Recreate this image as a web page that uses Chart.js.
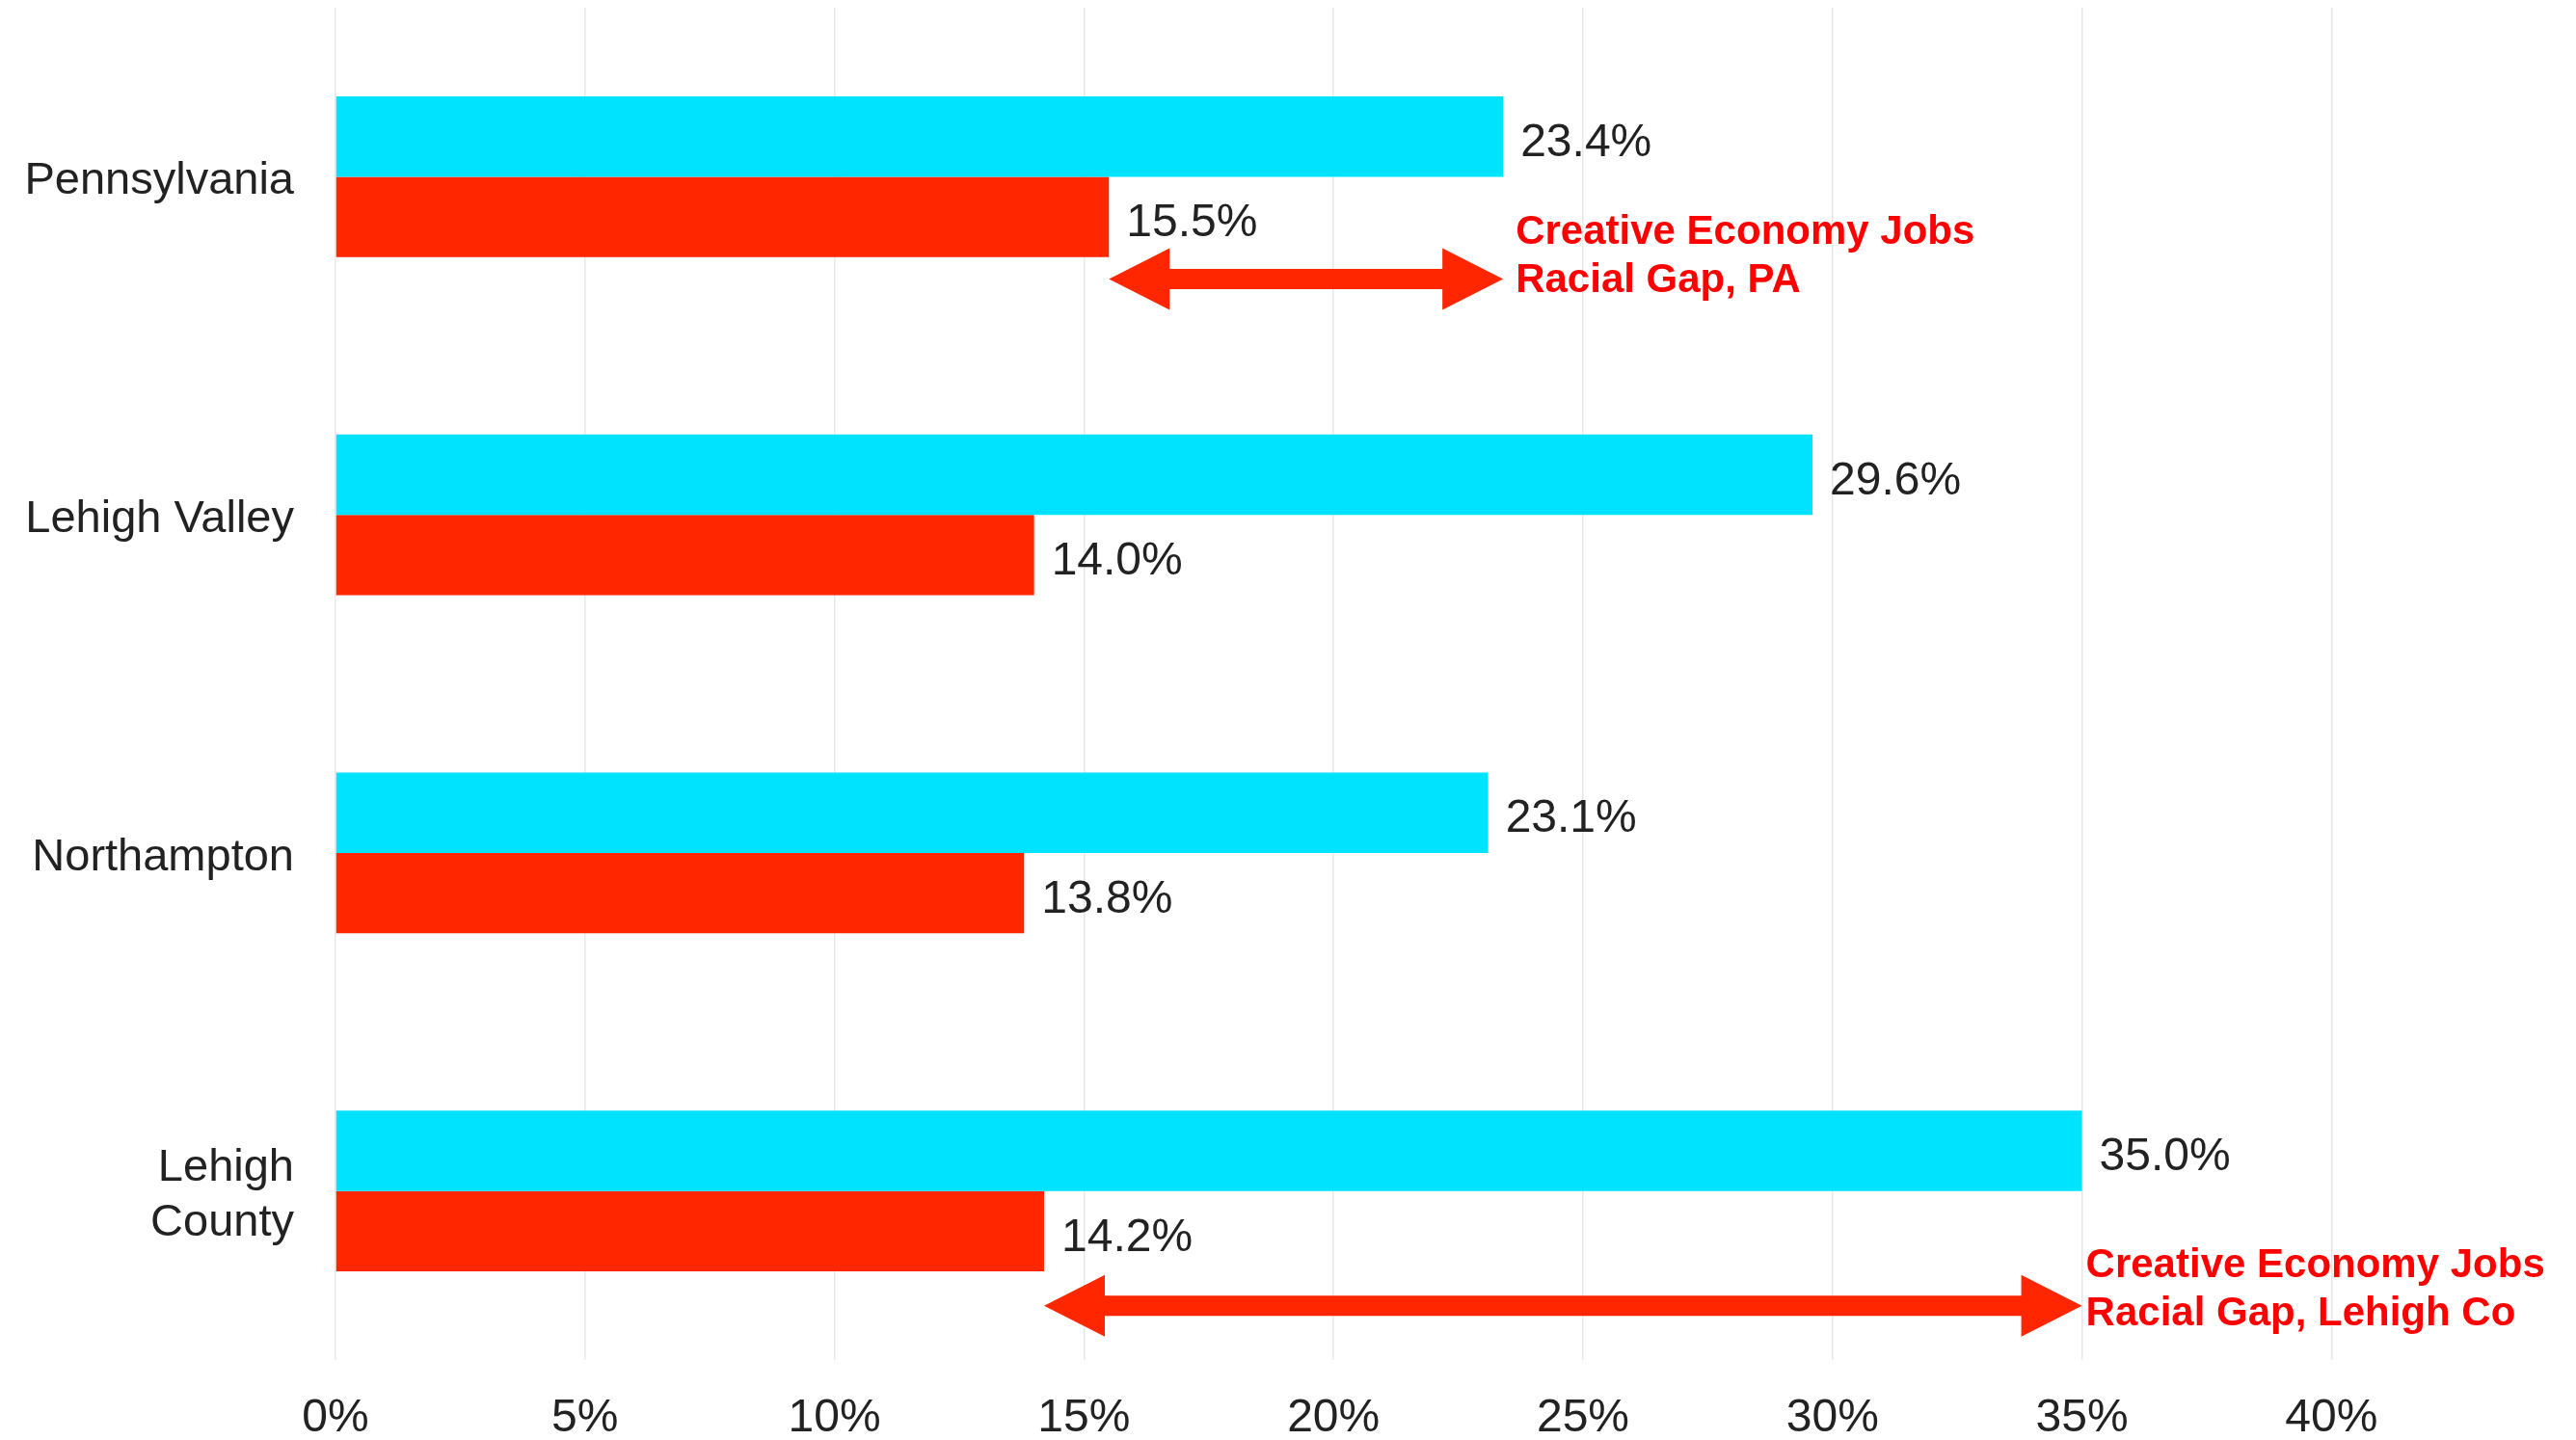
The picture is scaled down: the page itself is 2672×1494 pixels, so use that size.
<!DOCTYPE html>
<html lang="en">

<head>
    <meta charset="UTF-8">
    <title>Creative Economy Jobs</title>
    <style>
        body {
            margin: 0;
            background: #fff;
            overflow: hidden;
        }

        #gapChart {
            display: block;
        }
    </style>
    <script src="https://cdn.jsdelivr.net/npm/chart.js"></script>
</head>

<body>
    <canvas id="gapChart" width="2672" height="1494"></canvas>

    <script>
        // share of jobs in the creative economy, by area
        const areas = ['Pennsylvania', 'Lehigh Valley', 'Northampton', ['Lehigh', 'County']];
        const shareGroupA = [23.4, 29.6, 23.1, 35.0];   // top bar (cyan)
        const shareGroupB = [15.5, 14.0, 13.8, 14.2];   // lower bar (red)
        const gapNoteLines = [
            ['Creative Economy Jobs', 'Racial Gap, PA'],
            ['Creative Economy Jobs', 'Racial Gap, Lehigh Co']
        ];
        const gapNoteAreas = [0, 3];

        const CYAN = '#00e3ff';
        const RED = '#ff2600';
        const TEXT = '#222222';
        const FONT = "'Liberation Sans', Arial, sans-serif";

        // where the arrows and their captions sit, relative to the bars
        const noteLayout = [
            { dy: 106, textDx: 13, textDy: -36 },
            { dy: 119, textDx: 4, textDy: -30 }
        ];

        // "23.4%" next to the end of each bar
        const valueLabels = {
            id: 'valueLabels',
            afterDatasetsDraw(chart) {
                const ctx = chart.ctx;
                ctx.save();
                ctx.font = '48px ' + FONT;
                ctx.fillStyle = TEXT;
                ctx.textAlign = 'left';
                ctx.textBaseline = 'middle';
                chart.data.datasets.forEach((ds, di) => {
                    chart.getDatasetMeta(di).data.forEach((bar, i) => {
                        ctx.fillText(ds.data[i].toFixed(1) + '%', bar.x + 18, bar.y + 7);
                    });
                });
                ctx.restore();
            }
        };

        // double-headed arrows spanning the gap between the two bars
        const gapArrows = {
            id: 'gapArrows',
            afterDatasetsDraw(chart) {
                const ctx = chart.ctx;
                const xs = chart.scales.x;
                const ys = chart.scales.y;
                const headLen = 63, headHalf = 32, shaft = 21;

                ctx.save();
                gapNoteAreas.forEach((idx, n) => {
                    const lay = noteLayout[n];
                    const x1 = xs.getPixelForValue(shareGroupB[idx]);
                    const x2 = xs.getPixelForValue(shareGroupA[idx]);
                    const y = ys.getPixelForValue(idx) + lay.dy;

                    ctx.fillStyle = RED;
                    ctx.beginPath();
                    ctx.moveTo(x1, y);
                    ctx.lineTo(x1 + headLen, y - headHalf);
                    ctx.lineTo(x1 + headLen, y - shaft / 2);
                    ctx.lineTo(x2 - headLen, y - shaft / 2);
                    ctx.lineTo(x2 - headLen, y - headHalf);
                    ctx.lineTo(x2, y);
                    ctx.lineTo(x2 - headLen, y + headHalf);
                    ctx.lineTo(x2 - headLen, y + shaft / 2);
                    ctx.lineTo(x1 + headLen, y + shaft / 2);
                    ctx.lineTo(x1 + headLen, y + headHalf);
                    ctx.closePath();
                    ctx.fill();

                    ctx.fillStyle = '#ff0000';
                    ctx.font = 'bold 42px ' + FONT;
                    ctx.textAlign = 'left';
                    ctx.textBaseline = 'alphabetic';
                    gapNoteLines[n].forEach((line, li) => {
                        ctx.fillText(line, x2 + lay.textDx, y + lay.textDy + li * 50);
                    });
                });
                ctx.restore();
            }
        };

        // fixed axis sizes, and no extra room for overhanging tick labels
        function fixSize(prop, size) {
            return scale => {
                scale[prop] = size;
                scale.paddingTop = 0;
                scale.paddingBottom = 0;
                scale.paddingLeft = 0;
                scale.paddingRight = 0;
            };
        }

        new Chart(document.getElementById('gapChart'), {
            type: 'bar',
            data: {
                labels: areas,
                datasets: [
                    { data: shareGroupA, backgroundColor: CYAN },
                    { data: shareGroupB, backgroundColor: RED }
                ]
            },
            options: {
                indexAxis: 'y',
                responsive: false,
                animation: false,
                devicePixelRatio: 1,
                layout: { padding: { top: 8, right: 0, left: 0, bottom: 0 } },
                datasets: {
                    bar: { categoryPercentage: 0.475, barPercentage: 1.0, borderWidth: 0 }
                },
                plugins: {
                    legend: { display: false },
                    tooltip: { enabled: false }
                },
                scales: {
                    x: {
                        min: 0,
                        max: 44.9,
                        border: { display: false },
                        grid: { color: '#e8e8e8', lineWidth: 1.5, drawTicks: false },
                        ticks: {
                            stepSize: 5,
                            includeBounds: false,
                            padding: 32,
                            color: TEXT,
                            font: { family: FONT, size: 48 },
                            callback: v => v + '%'
                        },
                        afterFit: fixSize('height', 83)
                    },
                    y: {
                        border: { display: false },
                        grid: { display: false, drawTicks: false },
                        ticks: {
                            padding: 43,
                            labelOffset: 5,
                            color: TEXT,
                            font: { family: FONT, size: 47 }
                        },
                        afterFit: fixSize('width', 348)
                    }
                }
            },
            plugins: [valueLabels, gapArrows]
        });
    </script>
</body>

</html>
